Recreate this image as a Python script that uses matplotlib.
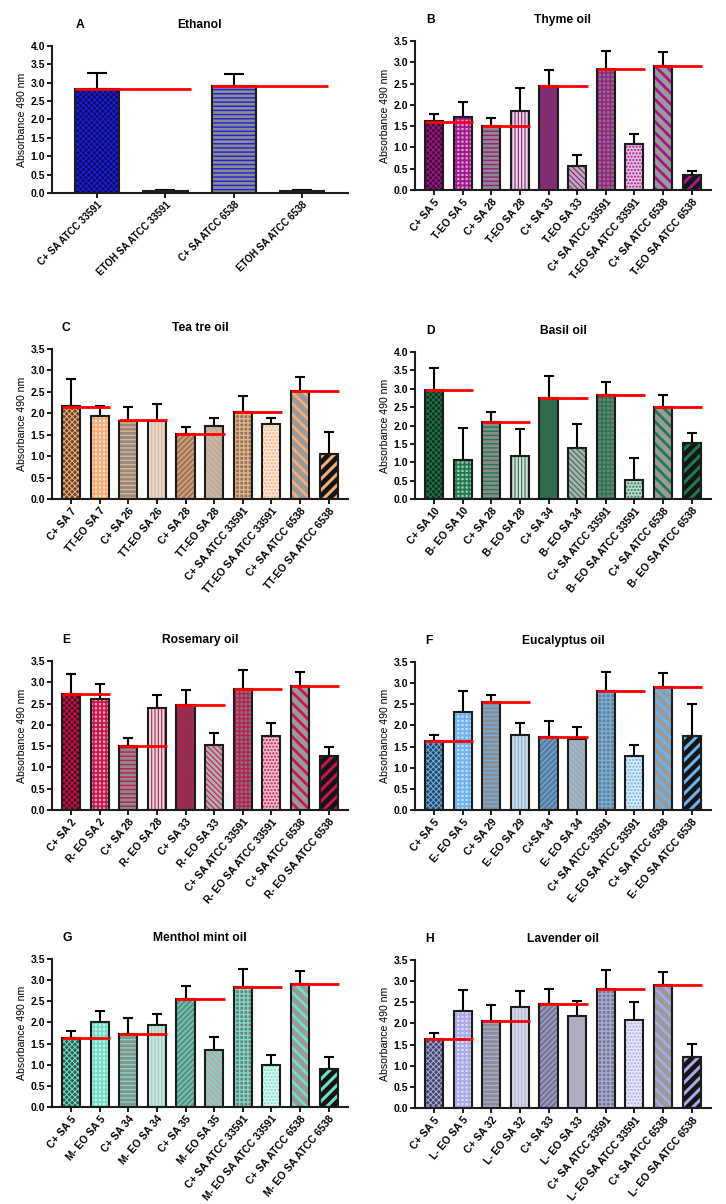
import numpy as np
import matplotlib
matplotlib.use("Agg")
import matplotlib.pyplot as plt
from matplotlib.colors import to_rgb

plt.rcParams['font.family'] = ['Liberation Sans', 'DejaVu Sans']

# ---- data ----
a_labels = ["C+ SA ATCC 33591", "ETOH SA ATCC 33591", "C+ SA ATCC 6538", "ETOH SA ATCC 6538"]
a_mean = [2.82, 0.05, 2.90, 0.05]
a_top = [3.27, 0.07, 3.23, 0.07]
a_ref = [2.82, 2.91]

b_labels = ["C+ SA 5", "T-EO SA 5", "C+ SA 28", "T-EO SA 28", "C+ SA 33", "T-EO SA 33",
            "C+ SA ATCC 33591", "T-EO SA ATCC 33591", "C+ SA ATCC 6538", "T-EO SA ATCC 6538"]
b_mean = [1.63, 1.72, 1.50, 1.86, 2.44, 0.57, 2.83, 1.08, 2.91, 0.35]
b_top = [1.79, 2.07, 1.69, 2.39, 2.81, 0.81, 3.27, 1.31, 3.23, 0.45]
b_ref = [1.60, 1.50, 2.45, 2.83, 2.92]

c_labels = ["C+ SA 7", "TT-EO SA 7", "C+ SA 26", "TT-EO SA 26", "C+ SA 28", "TT-EO SA 28",
            "C+ SA ATCC 33591", "TT-EO SA ATCC 33591", "C+ SA ATCC 6538", "TT-EO SA ATCC 6538"]
c_mean = [2.16, 1.94, 1.82, 1.82, 1.51, 1.71, 2.02, 1.75, 2.52, 1.06]
c_top = [2.80, 2.17, 2.15, 2.21, 1.69, 1.88, 2.41, 1.89, 2.84, 1.56]
c_ref = [2.14, 1.84, 1.51, 2.04, 2.53]

d_labels = ["C+ SA 10", "B- EO SA 10", "C+ SA 28", "B- EO SA 28", "C+ SA 34", "B- EO SA 34",
            "C+ SA ATCC 33591", "B- EO SA ATCC 33591", "C+ SA ATCC 6538", "B- EO SA ATCC 6538"]
d_mean = [2.98, 1.07, 2.10, 1.18, 2.75, 1.38, 2.82, 0.52, 2.51, 1.53]
d_top = [3.57, 1.92, 2.37, 1.90, 3.36, 2.04, 3.19, 1.11, 2.84, 1.81]
d_ref = [2.98, 2.09, 2.75, 2.82, 2.51]

e_labels = ["C+ SA 2", "R- EO SA 2", "C+ SA 28", "R- EO SA 28", "C+ SA 33", "R- EO SA 33",
            "C+ SA ATCC 33591", "R- EO SA ATCC 33591", "C+ SA ATCC 6538", "R- EO SA ATCC 6538"]
e_mean = [2.73, 2.61, 1.51, 2.39, 2.46, 1.52, 2.84, 1.74, 2.91, 1.27]
e_top = [3.20, 2.95, 1.70, 2.69, 2.82, 1.80, 3.28, 2.05, 3.24, 1.48]
e_ref = [2.73, 1.51, 2.46, 2.84, 2.91]

f_labels = ["C+ SA 5", "E- EO SA 5", "C+ SA 29", "E- EO SA 29", "C+SA 34", "E- EO SA 34",
            "C+ SA ATCC 33591", "E- EO SA ATCC 33591", "C+ SA ATCC 6538", "E- EO SA ATCC 6538"]
f_mean = [1.63, 2.33, 2.56, 1.77, 1.73, 1.67, 2.82, 1.28, 2.90, 1.74]
f_top = [1.78, 2.81, 2.73, 2.05, 2.11, 1.97, 3.27, 1.53, 3.23, 2.50]
f_ref = [1.63, 2.56, 1.73, 2.82, 2.90]

g_labels = ["C+ SA 5", "M- EO SA 5", "C+ SA 34", "M- EO SA 34", "C+ SA 35", "M- EO SA 35",
            "C+ SA ATCC 33591", "M- EO SA ATCC 33591", "C+ SA ATCC 6538", "M- EO SA ATCC 6538"]
g_mean = [1.64, 2.00, 1.73, 1.94, 2.55, 1.35, 2.83, 1.00, 2.91, 0.89]
g_top = [1.80, 2.28, 2.11, 2.20, 2.86, 1.65, 3.26, 1.24, 3.22, 1.18]
g_ref = [1.64, 1.73, 2.55, 2.83, 2.91]

h_labels = ["C+ SA 5", "L- EO SA 5", "C+ SA 32", "L- EO SA 32", "C+ SA 33", "L- EO SA 33",
            "C+ SA ATCC 33591", "L- EO SA ATCC 33591", "C+ SA ATCC 6538", "L- EO SA ATCC 6538"]
h_mean = [1.63, 2.30, 2.06, 2.39, 2.45, 2.17, 2.82, 2.08, 2.90, 1.20]
h_top = [1.78, 2.79, 2.44, 2.77, 2.81, 2.54, 3.26, 2.50, 3.22, 1.51]
h_ref = [1.63, 2.06, 2.45, 2.82, 2.90]

letters = ["A", "B", "C", "D", "E", "F", "G", "H"]
titles = ["Ethanol", "Thyme oil", "Tea tre oil", "Basil oil",
          "Rosemary oil", "Eucalyptus oil", "Menthol mint oil", "Lavender oil"]
themes = ["#1e1ee8", "#a3178c", "#f5ae78", "#1f7a4c", "#c8174f", "#6bb2ee", "#72e0c8", "#a9a9ea"]
ymaxes = [4.0, 3.5, 3.5, 4.0, 3.5, 3.5, 3.5, 3.5]

panels = [
    (a_labels, a_mean, a_top, a_ref),
    (b_labels, b_mean, b_top, b_ref),
    (c_labels, c_mean, c_top, c_ref),
    (d_labels, d_mean, d_top, d_ref),
    (e_labels, e_mean, e_top, e_ref),
    (f_labels, f_mean, f_top, f_ref),
    (g_labels, g_mean, g_top, g_ref),
    (h_labels, h_mean, h_top, h_ref),
]

# axes rectangles in figure fraction
rects = [
    [0.0716, 0.8397, 0.4077, 0.1221],
    [0.5716, 0.8422, 0.4077, 0.1238],
    [0.0716, 0.5855, 0.4077, 0.1246],
    [0.5716, 0.5855, 0.4077, 0.1221],
    [0.0716, 0.3272, 0.4077, 0.1238],
    [0.5716, 0.3272, 0.4077, 0.1229],
    [0.0716, 0.0806, 0.4077, 0.1229],
    [0.5716, 0.0797, 0.4077, 0.1229],
]
letter_x = [0.095, 0.054, 0.047, 0.054, 0.047, 0.047, 0.05, 0.05]


def mix(c, other, t):
    c = np.array(to_rgb(c))
    o = np.array(to_rgb(other))
    return tuple(c * (1 - t) + o * t)


def style(k, theme):
    # (facecolor, hatch, hatch linewidth) for bar position k
    if k == 0:
        return mix(theme, "black", 0.6), "xxxxxx", 0.7
    if k == 1:
        return mix(theme, "white", 0.6), "++++", 1.3
    if k == 2:
        return "#8c8c8c", "----", 1.0
    if k == 3:
        return "#dcdcdc", "|||||", 0.8
    if k == 4:
        return mix(theme, "#505050", 0.55), "//////", 0.8
    if k == 5:
        return "#b0b0b0", "\\\\\\\\\\\\", 0.8
    if k == 6:
        return "#7a7a7a", "++++", 1.0
    if k == 7:
        return mix(theme, "white", 0.72), ".....", 1.0
    if k == 8:
        return "#9a9a9a", "\\\\\\", 2.0
    return "#151515", "///", 2.2


edge = "#1c1c1c"
fig = plt.figure(figsize=(7.26, 12.04), dpi=100)

for p, (labels, mean, top, ref) in enumerate(panels):
    ax = fig.add_axes(rects[p])
    n = len(labels)
    x = np.arange(n)
    theme = themes[p]
    if n == 4:
        w = 0.65
        kinds = [0, 7, 2, 9]
        cap = 7.5
        rot, xfs = 45, 6.9
    else:
        w = 0.63
        kinds = list(range(10))
        cap = 3.6
        rot, xfs = 50, 7.4

    up = np.array(top) - np.array(mean)
    ax.errorbar(x, mean, yerr=[np.zeros(n), up], fmt="none", ecolor="black",
                elinewidth=1.5, capsize=cap, capthick=1.5, zorder=1)

    for i in range(n):
        fc, hatch, hlw = style(kinds[i], theme)
        with plt.rc_context({"hatch.linewidth": hlw}):
            b = ax.bar(x[i], mean[i], w, color=fc, hatch=hatch, edgecolor=theme,
                       linewidth=0, zorder=2)
            for patch in b:
                if hasattr(patch, "set_hatch_linewidth"):
                    patch.set_hatch_linewidth(hlw)
        ax.bar(x[i], mean[i], w, fill=False, edgecolor=edge, linewidth=1.5, zorder=3)

    for j, r in enumerate(ref):
        i0 = 2 * j
        ax.hlines(r, i0 - w / 2, i0 + 1 + w / 2 + 0.05, colors="#ff0000",
                  linewidth=2.0, zorder=4)

    ax.set_xlim(-0.66, n - 1 + 0.67)
    ax.set_ylim(0, ymaxes[p])
    ticks = np.arange(0, ymaxes[p] + 0.01, 0.5)
    ax.set_yticks(ticks)
    ax.set_yticklabels(["%.1f" % v for v in ticks], fontsize=7.5, fontweight="bold")
    ax.set_xticks(x)
    ax.set_xticklabels(labels, rotation=rot, ha="right", rotation_mode="anchor",
                       fontsize=xfs, fontweight="bold")
    ax.tick_params(axis="y", direction="out", length=3.5, width=1.4, pad=1.5, color=edge)
    ax.tick_params(axis="x", direction="out", length=3.5, width=1.4, pad=1.5, color=edge)
    for s in ["top", "right"]:
        ax.spines[s].set_visible(False)
    for s in ["left", "bottom"]:
        ax.spines[s].set_linewidth(1.5)
        ax.spines[s].set_color(edge)
    ax.set_ylabel("Absorbance 490 nm", fontsize=7.6, labelpad=2.5)
    ax.text(0.5, 1.14, titles[p], transform=ax.transAxes, ha="center", va="center",
            fontsize=8.7, fontweight="bold")
    ax.text(letter_x[p], 1.14, letters[p], transform=ax.transAxes, ha="center",
            va="center", fontsize=8.7, fontweight="bold")

fig.savefig("out.png", dpi=100)
